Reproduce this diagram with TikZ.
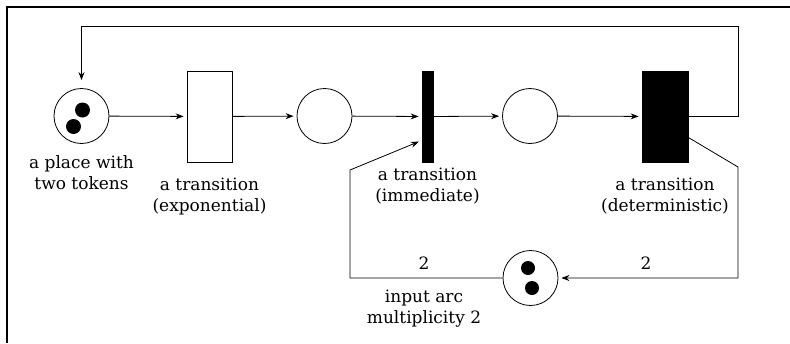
\documentclass[tikz,border=0pt]{standalone}
\usepackage{fontspec}
\setmainfont{DejaVu Serif}
\usetikzlibrary{arrows.meta, positioning}
\tikzset{>={Stealth[length=8pt,width=6pt]}}
\tikzset{
	place/.style={draw, circle, line width=0.8pt, minimum size=55pt, inner sep=0pt},
	trans/.style={draw, rectangle, line width=0.8pt, minimum width=45pt, minimum height=91pt, inner sep=0pt},
	label text/.style={align=center, font=\fontsize{17}{21}\selectfont, inner sep=0pt},
	arc/.style={line width=0.8pt, shorten >=3pt}
}

\begin{document}
\begin{tikzpicture}[x=1pt, y=-1pt]
	\useasboundingbox (0,0) rectangle (790,343);
	\draw [line width=2pt] (7,343) -- (7,7) -- (790,7);
	\node [place] (p1) at (81.5,116) {};
	\node [trans] (texp) at (209.5,116.5) {};
	\node [place] (p2) at (324.5,116) {};
	\node [trans, fill=black, minimum width=11pt] (timm) at (427.5,116.5) {};
	\node [place] (p3) at (530,116) {};
	\node [trans, fill=black, minimum width=46pt] (tdet) at (665,116.5) {};
	\node [place] (p4) at (530.5,278) {};
	\fill ([shift={(1,-6)}]p1) circle (7.5);
	\fill ([shift={(-8,10.5)}]p1) circle (7.5);
	\fill ([shift={(-2.5,-10)}]p4) circle (7);
	\fill ([shift={(1.5,10)}]p4) circle (7);
	\coordinate (top) at (738,26);
	\coordinate (bend) at (738,167);
	\coordinate (low) at (350,278);
	\coordinate (up) at (350,170);
	\draw [->, arc] (p1) -- (texp);
	\draw [->, arc] (texp) -- (p2);
	\draw [->, arc] (p2) -- (timm);
	\draw [->, arc] (timm) -- (p3);
	\draw [->, arc] (p3) -- (tdet);
	\draw [->, arc, shorten >=8pt] (tdet.east) -| (top) -| (p1.north);
	\draw [->, arc] ([yshift=-21pt]tdet.east) -- (bend) |- (p4);
	\draw [->, arc] (p4) -- (low) -- (up) -- ([yshift=-24pt]timm.west);
	\node [label text] at (424,263) {2};
	\node [label text] at (646,263) {2};
	\node [label text, below=11pt of p1] {a place with\\two tokens};
	\node [label text, below=15pt of texp] {a transition\\(exponential)};
	\node [label text, below=5pt of timm] {a transition\\(immediate)};
	\node [label text, below=15pt of tdet] {a transition\\(deterministic)};
	\node [label text] at (424,309) {input arc\\multiplicity 2};
\end{tikzpicture}
\end{document}
